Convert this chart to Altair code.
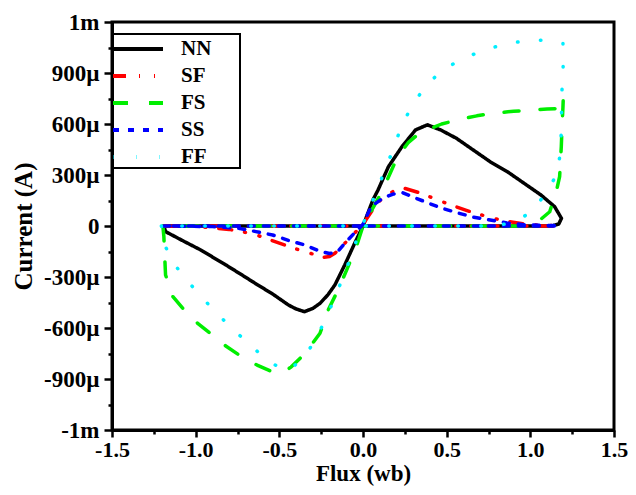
import altair as alt
import pandas as pd

# ---- data (flux in Wb, current in µA) ----
NN_x = [-1.19, -1.18, -1.08, -0.97, -0.82, -0.72, -0.64, -0.54, -0.445, -0.40, -0.35, -0.30, -0.257, -0.21, -0.168, -0.109, -0.05, 0.0, 0.059, 0.089, 0.152, 0.233, 0.314, 0.385, 0.464, 0.558, 0.659, 0.760, 0.862, 0.963, 1.064, 1.145, 1.186, 1.17, 1.13, -1.19]
NN_y = [0, -33, -85, -141, -229, -290, -340, -400, -465, -488, -504, -485, -455, -405, -347, -229, -102, 0, 153, 210, 349, 467, 565, 595, 565, 516, 447, 378, 320, 251, 182, 114, 45, 12, 0, 0]

SF_x = [-1.19, -1.0, -0.80, -0.66, -0.56, -0.46, -0.36, -0.30, -0.247, -0.20, -0.168, -0.089, 0.0, 0.07, 0.12, 0.178, 0.247, 0.336, 0.43, 0.524, 0.642, 0.76, 0.86, 0.96, 1.05, 1.15, 1.17, -1.19]
SF_y = [0, -2, -20, -45, -80, -115, -148, -165, -186, -180, -161, -82, 10, 114, 170, 202, 222, 196, 160, 124, 84, 50, 27, 13, 5, 2, 0, 0]

FS_x = [-1.196, -1.19, -1.185, -1.18, -1.136, -1.077, -0.988, -0.909, -0.820, -0.731, -0.633, -0.544, -0.48, -0.43, -0.346, -0.257, -0.208, -0.149, -0.089, -0.040, 0.0, 0.108, 0.207, 0.27, 0.33, 0.385, 0.47, 0.563, 0.68, 0.78, 0.90, 1.007, 1.10, 1.19, 1.197, 1.195, 1.19, 1.185, 1.175, 1.16, 1.116, 1.057, 1.0, 0.95, -1.196]
FS_y = [0, -63, -180, -288, -416, -484, -573, -635, -706, -765, -818, -857, -862, -830, -749, -631, -494, -376, -239, -122, 0, 192, 408, 490, 540, 565, 600, 624, 648, 663, 675, 682, 688, 692, 755, 700, 600, 466, 290, 224, 84, 35, 5, 0, 0]

SS_x = [-1.19, -0.90, -0.74, -0.64, -0.54, -0.445, -0.346, -0.267, -0.20, -0.15, -0.109, -0.05, 0.0, 0.049, 0.118, 0.18, 0.237, 0.30, 0.385, 0.47, 0.563, 0.66, 0.76, 0.86, 0.96, 1.15, 1.17, -1.19]
SS_y = [0, -3, -14, -33, -53, -85, -112, -145, -162, -150, -102, -40, 10, 114, 163, 188, 196, 170, 137, 105, 78, 52, 35, 18, 8, 2, 0, 0]

FF_x = [-1.205, -1.186, -1.117, -1.028, -0.939, -0.850, -0.751, -0.652, -0.553, -0.47, -0.435, -0.336, -0.274, -0.208, -0.109, -0.030, 0.039, 0.089, 0.138, 0.188, 0.227, 0.296, 0.371, 0.474, 0.582, 0.705, 0.830, 0.958, 1.092, 1.195, 1.196, 1.19, 1.187, 1.185, 1.18, 1.16, 1.086, 0.997, 0.90, 0.80, -1.205]
FF_y = [0, -112, -239, -347, -445, -537, -631, -720, -804, -845, -847, -749, -651, -514, -278, -60, 104, 222, 349, 467, 584, 712, 819, 918, 976, 1029, 1065, 1088, 1094, 1075, 937, 829, 702, 565, 437, 306, 182, 75, 25, 0, 0]

series_names = ["NN", "SF", "FS", "SS", "FF"]
series_colors = ["#000000", "#ff0000", "#00ee00", "#0000ff", "#00eeff"]
series_dashes = [[1, 0], [13, 13, 1, 14, 1, 13], [15, 21], [6, 9], [0.5, 22.5]]

x_major = [-1.5, -1.0, -0.5, 0.0, 0.5, 1.0, 1.5]
x_major_labels = ["-1.5", "-1.0", "-0.5", "0.0", "0.5", "1.0", "1.5"]
x_minor = [-1.25, -0.75, -0.25, 0.25, 0.75, 1.25]

y_major = [-1200, -900, -600, -300, 0, 300, 600, 900, 1200]
y_major_labels = ["-1m", "-900µ", "-600µ", "-300µ", "0", "300µ", "600µ", "900µ", "1m"]
y_minor = [-1050, -750, -450, -150, 150, 450, 750, 1050]

# ---- build table ----
rows = []
for name, xs, ys in zip(series_names,
                        [NN_x, SF_x, FS_x, SS_x, FF_x],
                        [NN_y, SF_y, FS_y, SS_y, FF_y]):
    for i, (x, y) in enumerate(zip(xs, ys)):
        rows.append({"series": name, "flux": x, "current": y, "idx": i})
df = pd.DataFrame(rows)


def label_expr(values, labels):
    parts = [f"datum.value == {v} ? '{l}' : " for v, l in zip(values, labels)]
    return "".join(parts) + "''"


FONT = "Liberation Serif"

legend = alt.Legend(
    title=" ", titleOrient="right", titlePadding=28, titleFontSize=21,
    orient="none", legendX=0, legendY=12,
    symbolType="M0,0H4.1667", symbolSize=576, symbolStrokeWidth=4,
    symbolOffset=-14, labelOffset=54, rowPadding=3, padding=1,
    labelFont=FONT, labelFontSize=21, labelFontWeight="bold", labelColor="black",
    strokeColor="black",
)

chart = alt.Chart(df).mark_line(strokeWidth=3.5, strokeCap="round", strokeJoin="round").encode(
    x=alt.X("flux:Q",
            scale=alt.Scale(domain=[-1.5, 1.5], nice=False, zero=False),
            axis=alt.Axis(values=x_major + x_minor,
                          labelExpr=label_expr(x_major, x_major_labels),
                          tickSize={"condition": {"test": f"indexof({x_minor}, datum.value) >= 0", "value": 4}, "value": 7},
                          labelFlush=False, labelOverlap=False, labelPadding=2, labelFontSize=22,
                          title="Flux (wb)", titlePadding=2.5, titleFontSize=23)),
    y=alt.Y("current:Q",
            scale=alt.Scale(domain=[-1200, 1200], nice=False),
            axis=alt.Axis(values=y_major + y_minor,
                          labelExpr=label_expr(y_major, y_major_labels),
                          tickSize={"condition": {"test": f"indexof({y_minor}, datum.value) >= 0", "value": 4}, "value": 8},
                          labelFlush=False, labelOverlap=False, labelPadding=5, labelFontSize=23,
                          title="Current (A)", titlePadding=7, titleFontSize=25)),
    color=alt.Color("series:N", scale=alt.Scale(domain=series_names, range=series_colors), legend=legend),
    strokeDash=alt.StrokeDash("series:N", scale=alt.Scale(domain=series_names, range=series_dashes), legend=legend),
    order=alt.Order("idx:Q"),
).properties(
    width=502, height=408,
    autosize=alt.AutoSizeParams(type="none"),
    padding={"left": 104, "top": 14, "right": 14, "bottom": 57},
).configure_view(
    stroke="black", strokeWidth=3
).configure_axis(
    grid=False, domainColor="black", domainWidth=3, tickColor="black", tickWidth=2.5,
    labelFont=FONT, labelFontWeight="bold", labelColor="black",
    titleFont=FONT, titleFontWeight="bold", titleColor="black",
).configure_legend(strokeWidth=2)

chart.save("out.html", embed_options={"renderer": "svg", "actions": False})
